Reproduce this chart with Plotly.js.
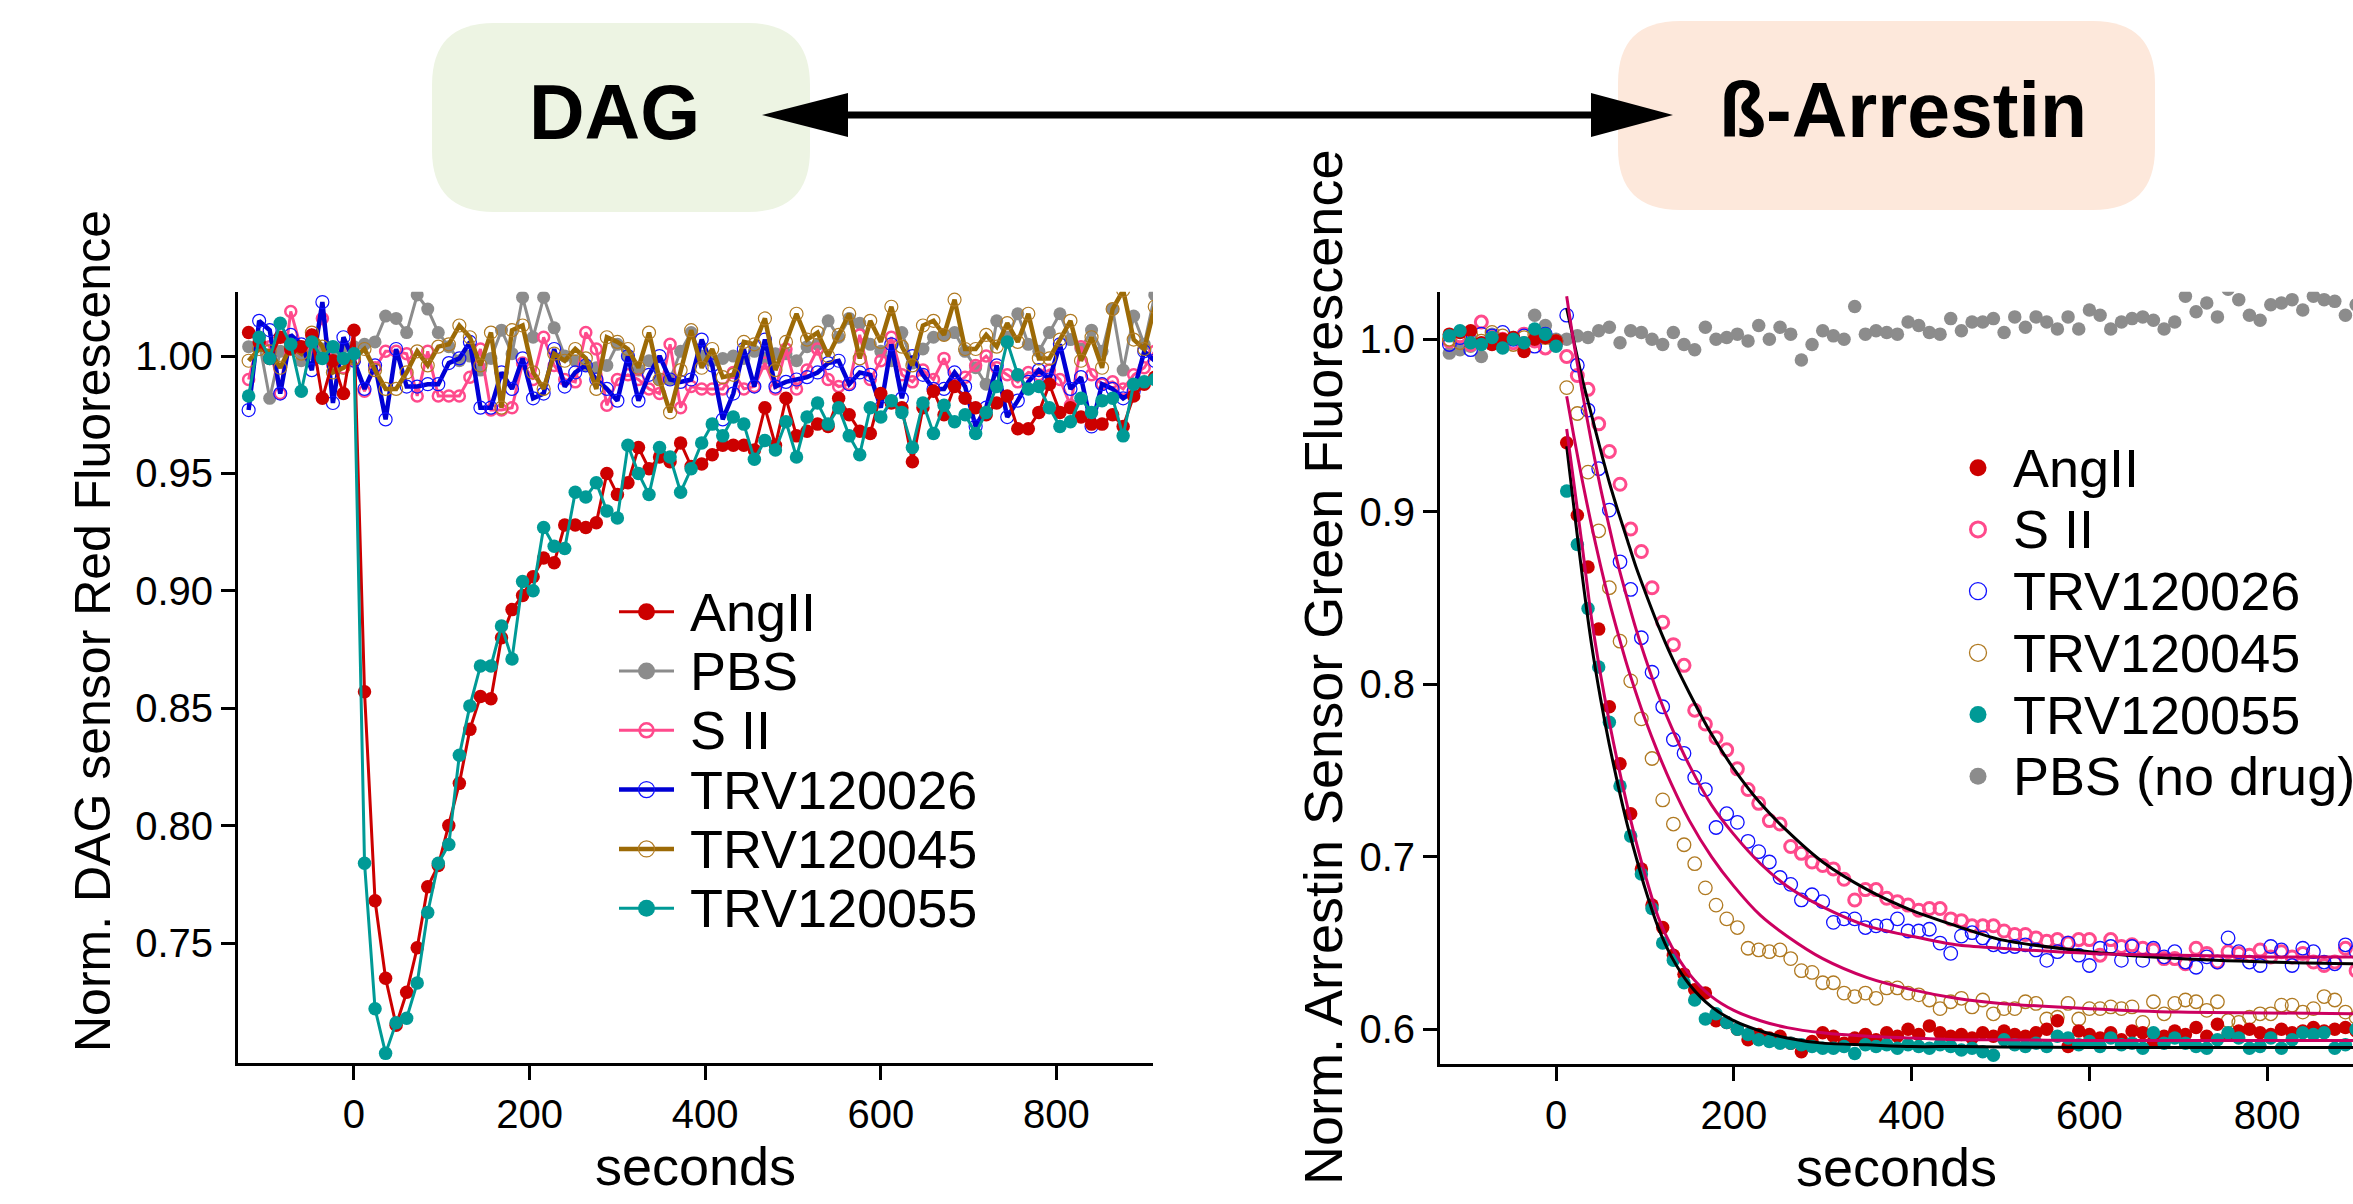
<!DOCTYPE html>
<html>
<head>
<meta charset="utf-8">
<script src="https://cdn.plot.ly/plotly-3.0.1.min.js"></script>
<style>
html,body{margin:0;padding:0;background:#fff;}
#chart{width:2353px;height:1204px;}
</style>
</head>
<body>
<div id="chart"></div>
<script>
// ---------------- DATA ----------------
// Left panel: DAG sensor (time in seconds)
const dagSeconds = [-120,-108,-96,-84,-72,-60,-48,-36,-24,-12,0,12,24,36,48,60,72,84,96,108,120,132,144,156,168,180,192,204,216,228,240,252,264,276,288,300,312,324,336,348,360,372,384,396,408,420,432,444,456,468,480,492,504,516,528,540,552,564,576,588,600,612,624,636,648,660,672,684,696,708,720,732,744,756,768,780,792,804,816,828,840,852,864,876,888,900,912];

const dagAngII = [1.010,1.006,0.999,1.008,1.003,1.004,1.009,0.982,0.998,0.984,1.011,
  0.857,0.768,0.735,0.715,0.729,0.748,0.774,0.783,0.800,0.818,
  0.841,0.855,0.854,0.880,0.892,0.898,0.906,0.914,0.912,0.928,
  0.928,0.927,0.929,0.950,0.941,0.946,0.961,0.952,0.957,0.955,
  0.963,0.953,0.954,0.958,0.962,0.962,0.962,0.960,0.978,0.962,
  0.982,0.966,0.968,0.971,0.970,0.982,0.975,0.968,0.967,0.984,
  0.980,0.978,0.955,0.978,0.985,0.975,0.987,0.982,0.978,0.975,
  0.980,0.983,0.969,0.969,0.976,0.988,0.976,0.978,0.974,0.971,
  0.971,0.975,0.970,0.983,0.988,0.991];

const dagPBS = [1.004,1.006,0.982,1.002,1.004,0.998,1.001,1.003,1.002,1.004,1.004,
  1.005,1.006,1.017,1.016,1.010,1.026,1.020,1.010,1.004,0.998,
  1.000,0.994,0.999,1.011,1.001,1.025,1.008,1.025,1.012,1.000,
  0.998,0.996,0.995,0.996,1.005,1.000,0.994,0.998,0.990,0.990,
  1.002,1.010,1.000,0.998,0.999,1.000,0.999,1.002,0.999,1.001,
  1.001,0.998,1.004,1.005,1.015,1.008,1.016,1.014,1.005,1.002,
  0.998,1.010,0.997,1.003,1.008,1.009,1.010,1.002,0.995,0.988,
  1.015,1.008,1.018,1.005,1.002,1.010,1.018,1.007,1.003,1.011,
  1.002,1.020,0.994,1.017,1.005,1.026];

const dagSII = [0.990,1.008,1.004,0.984,1.019,1.003,1.004,1.016,0.996,0.995,0.998,
  0.985,0.995,1.002,1.002,1.001,0.983,1.002,0.983,0.983,0.983,
  0.991,1.003,0.977,0.977,0.978,0.997,0.990,1.008,0.996,0.990,
  0.989,1.010,1.003,0.979,0.990,0.992,0.990,0.986,0.984,1.005,
  0.978,0.987,0.986,0.986,0.986,0.993,0.986,0.987,0.997,0.986,
  1.003,0.986,0.994,1.003,0.990,0.987,0.988,1.009,0.990,0.998,
  1.008,0.992,0.989,0.994,0.990,0.999,0.988,0.991,0.996,1.000,
  0.995,0.992,0.989,0.993,0.992,0.994,0.990,0.979,1.004,0.992,
  0.988,0.989,0.986,0.992,0.995,1.002];

const dagTRV120026 = [0.977,1.015,1.011,0.984,1.009,1.005,0.994,1.023,0.980,1.008,0.998,
  0.986,0.996,0.973,1.003,0.987,0.987,0.988,0.988,0.997,0.999,
  1.006,0.978,0.978,0.993,0.986,0.999,0.982,0.984,1.003,0.987,
  0.993,0.996,0.990,0.986,0.981,1.000,0.981,0.992,1.000,0.990,
  0.989,0.990,1.007,0.996,0.973,0.984,1.003,0.987,1.007,0.987,
  0.989,0.990,0.991,0.993,0.997,0.998,0.988,0.993,0.992,0.978,
  1.005,0.982,1.000,0.992,0.986,0.986,0.993,0.987,0.970,0.978,
  0.996,0.974,0.981,0.989,0.994,0.990,1.005,0.986,0.991,0.970,
  0.988,0.986,0.982,0.985,1.002,0.998];

const dagTRV120045 = [0.998,1.003,1.002,0.995,1.004,1.001,1.010,1.004,0.993,0.995,0.999,
  1.003,0.994,0.986,0.986,0.993,1.002,0.996,1.004,1.005,1.013,
  1.008,0.996,1.010,0.978,1.011,1.013,0.993,0.986,1.001,0.998,
  1.003,0.999,0.986,1.008,1.006,1.003,0.995,1.010,0.990,0.976,
  0.994,1.011,0.995,1.003,0.991,0.992,1.006,1.005,1.016,0.994,
  1.006,1.018,1.007,1.010,1.000,1.009,1.018,0.999,1.015,1.006,
  1.021,1.004,0.996,1.013,1.015,1.009,1.024,1.003,1.003,1.009,
  1.004,1.014,1.006,1.018,0.999,0.999,1.007,1.015,0.998,1.008,
  0.995,1.020,1.028,1.007,1.003,1.021];

const dagTRV120055 = [0.983,1.008,0.999,1.014,1.005,0.985,1.006,0.999,1.004,0.999,1.001,
  0.784,0.722,0.703,0.716,0.718,0.733,0.763,0.784,0.792,0.830,
  0.851,0.868,0.868,0.885,0.871,0.904,0.900,0.927,0.919,0.918,
  0.942,0.940,0.946,0.934,0.931,0.962,0.950,0.941,0.961,0.957,
  0.942,0.952,0.963,0.971,0.966,0.974,0.971,0.956,0.964,0.960,
  0.972,0.957,0.974,0.980,0.971,0.978,0.966,0.958,0.978,0.974,
  0.981,0.976,0.961,0.980,0.967,0.979,0.972,0.975,0.967,0.976,
  0.987,1.006,0.992,0.986,0.987,0.978,0.970,0.972,0.982,0.976,
  0.981,0.982,0.966,0.988,0.989,0.990];

// Right panel: beta-arrestin sensor
const arrSeconds = [-120,-108,-96,-84,-72,-60,-48,-36,-24,-12,0,12,24,36,48,60,72,84,96,108,120,132,144,156,168,180,192,204,216,228,240,252,264,276,288,300,312,324,336,348,360,372,384,396,408,420,432,444,456,468,480,492,504,516,528,540,552,564,576,588,600,612,624,636,648,660,672,684,696,708,720,732,744,756,768,780,792,804,816,828,840,852,864,876,888,900];

const arrAngII = [1.003,1.004,1.005,0.998,0.997,1.000,1.001,0.993,1.000,1.001,0.999,
  0.940,0.898,0.868,0.832,0.787,0.754,0.725,0.693,0.672,0.659,
  0.643,0.632,0.623,0.621,0.605,0.604,0.600,0.594,0.597,0.595,
  0.596,0.592,0.587,0.593,0.598,0.596,0.592,0.595,0.597,0.594,
  0.598,0.596,0.600,0.597,0.602,0.598,0.596,0.597,0.595,0.598,
  0.596,0.599,0.597,0.596,0.598,0.600,0.605,0.590,0.599,0.597,
  0.595,0.598,0.594,0.599,0.598,0.593,0.596,0.599,0.597,0.601,
  0.596,0.603,0.597,0.599,0.600,0.598,0.597,0.600,0.598,0.599,
  0.601,0.599,0.600,0.601,0.599];

const arrSII = [0.999,1.002,0.997,1.010,1.001,1.000,0.998,1.003,0.999,0.995,0.998,
  0.990,0.979,0.971,0.951,0.935,0.916,0.890,0.877,0.856,0.836,
  0.823,0.811,0.785,0.777,0.769,0.762,0.751,0.739,0.731,0.721,
  0.719,0.706,0.702,0.697,0.695,0.693,0.687,0.675,0.681,0.681,
  0.676,0.674,0.672,0.669,0.670,0.670,0.664,0.663,0.660,0.660,
  0.660,0.657,0.655,0.655,0.653,0.651,0.652,0.650,0.652,0.652,
  0.643,0.652,0.648,0.649,0.647,0.646,0.641,0.641,0.638,0.647,
  0.644,0.639,0.645,0.644,0.643,0.646,0.642,0.645,0.642,0.644,
  0.639,0.637,0.639,0.647,0.634];

const arrTRV120026 = [0.997,1.001,0.994,1.003,1.002,1.004,1.000,1.002,0.996,1.003,0.999,
  1.014,0.985,0.959,0.925,0.901,0.871,0.855,0.827,0.807,0.787,
  0.768,0.760,0.746,0.739,0.717,0.725,0.720,0.709,0.703,0.697,
  0.688,0.684,0.675,0.678,0.674,0.662,0.664,0.664,0.659,0.660,
  0.660,0.664,0.657,0.657,0.658,0.650,0.644,0.654,0.656,0.653,
  0.649,0.648,0.648,0.649,0.646,0.640,0.645,0.650,0.643,0.637,
  0.647,0.648,0.640,0.648,0.640,0.647,0.642,0.645,0.639,0.636,
  0.642,0.639,0.653,0.645,0.639,0.637,0.648,0.646,0.637,0.647,
  0.645,0.639,0.638,0.649,0.645];

const arrTRV120045 = [1.000,0.998,1.003,0.999,1.004,1.002,0.997,1.001,1.003,1.001,0.999,
  0.972,0.957,0.923,0.889,0.856,0.825,0.802,0.780,0.757,0.733,
  0.719,0.707,0.696,0.682,0.672,0.664,0.659,0.647,0.646,0.645,
  0.646,0.641,0.634,0.633,0.627,0.627,0.621,0.619,0.621,0.618,
  0.624,0.624,0.621,0.620,0.617,0.612,0.616,0.618,0.613,0.617,
  0.609,0.612,0.612,0.616,0.615,0.606,0.607,0.615,0.606,0.612,
  0.612,0.613,0.612,0.613,0.604,0.616,0.609,0.615,0.617,0.616,
  0.611,0.616,0.605,0.604,0.607,0.609,0.609,0.614,0.614,0.610,
  0.612,0.619,0.617,0.610,0.607];

const arrTRV120055 = [1.002,1.005,0.998,0.997,1.001,0.995,1.000,0.998,1.006,1.003,0.996,
  0.912,0.881,0.844,0.810,0.778,0.741,0.712,0.690,0.670,0.650,
  0.640,0.627,0.617,0.606,0.609,0.604,0.600,0.597,0.594,0.593,
  0.592,0.592,0.591,0.590,0.589,0.589,0.590,0.586,0.591,0.590,
  0.591,0.589,0.591,0.590,0.589,0.591,0.590,0.588,0.589,0.587,
  0.585,0.594,0.591,0.590,0.592,0.590,0.596,0.595,0.591,0.593,
  0.590,0.595,0.591,0.592,0.589,0.598,0.592,0.595,0.592,0.590,
  0.589,0.594,0.598,0.595,0.589,0.590,0.595,0.589,0.594,0.598,
  0.597,0.598,0.589,0.591,0.600];

const arrPBS = [0.992,0.994,0.996,0.990,1.003,1.000,1.001,0.998,1.014,1.008,1.000,
  1.000,1.002,1.001,1.005,1.007,0.998,1.005,1.004,1.000,0.997,
  1.004,0.997,0.994,1.007,1.000,1.001,1.003,0.999,1.008,1.000,
  1.007,1.003,0.988,0.997,1.005,1.002,1.000,1.019,1.003,1.005,
  1.004,1.003,1.010,1.008,1.004,1.003,1.012,1.005,1.010,1.010,
  1.012,1.004,1.013,1.007,1.013,1.010,1.006,1.013,1.006,1.017,
  1.014,1.006,1.010,1.012,1.013,1.011,1.006,1.010,1.025,1.016,
  1.021,1.013,1.029,1.023,1.014,1.011,1.020,1.021,1.023,1.017,
  1.025,1.023,1.022,1.014,1.020];

// Fitted decay curves
const fitSeconds = [12,20,30,40,50,60,70,80,90,100,115,130,150,175,200,230,260,300,350,400,450,500,600,700,800,900];
const fitAngII   = [0.948,0.917,0.878,0.838,0.806,0.778,0.753,0.730,0.709,0.690,0.665,0.648,0.632,0.619,0.611,0.605,0.601,0.598,0.596,0.595,0.594,0.594,0.5935,0.5935,0.5935,0.5935];
const fitTRV120055 = [0.938,0.903,0.861,0.823,0.792,0.765,0.741,0.719,0.700,0.682,0.659,0.642,0.626,0.613,0.605,0.599,0.595,0.592,0.591,0.590,0.590,0.5898,0.5895,0.5895,0.5895,0.5895];
const fitSII     = [1.018,0.999,0.976,0.956,0.936,0.917,0.900,0.884,0.868,0.854,0.834,0.816,0.795,0.771,0.751,0.731,0.715,0.697,0.681,0.669,0.660,0.652,0.645,0.641,0.639,0.638];
const fitTRV120026 = [1.025,0.998,0.968,0.940,0.914,0.891,0.869,0.850,0.832,0.816,0.794,0.775,0.753,0.730,0.713,0.696,0.683,0.671,0.660,0.654,0.649,0.647,0.644,0.643,0.642,0.642];
const fitTRV120045 = [0.967,0.944,0.917,0.892,0.869,0.848,0.829,0.811,0.795,0.780,0.760,0.742,0.721,0.700,0.683,0.666,0.654,0.641,0.630,0.623,0.618,0.615,0.612,0.610,0.6095,0.609];

const dagLegendNames = ['AngII','PBS','S II','TRV120026','TRV120045','TRV120055'];
const arrLegendNames = ['AngII','S II','TRV120026','TRV120045','TRV120055','PBS (no drug)'];
const xTicks = [0,200,400,600,800];
const dagYTicks = [0.75,0.80,0.85,0.90,0.95,1.00];
const arrYTicks = [0.6,0.7,0.8,0.9,1.0];

// ---------------- STYLE ----------------
const W = 2353, H = 1204;
const fx = x => x / W;
const fy = y => 1 - y / H;
const FONT = 'Liberation Sans, Arial, Helvetica, sans-serif';
const C = {
  red:'#cc0000', grey:'#8c8c8c', pink:'#ff4a8c', blue:'#0000d4', brown:'#9c6a06',
  brownMk:'#b07a22', teal:'#009a96', fit:'#cc0060', black:'#000000'
};

const traces = [];
function dagTrace(y, name, color, lw, marker) {
  traces.push({type:'scatter', mode:'lines+markers', x:dagSeconds, y:y, name:name,
    xaxis:'x', yaxis:'y', line:{color:color, width:lw}, marker:marker, hoverinfo:'skip'});
}
dagTrace(dagPBS, 'PBS', C.grey, 3, {symbol:'circle', size:13, color:C.grey});
dagTrace(dagSII, 'S II', C.pink, 3, {symbol:'circle-open', size:11, color:C.pink, line:{width:2.5}});
dagTrace(dagTRV120026, 'TRV120026', C.blue, 4.5, {symbol:'circle-open', size:13, color:'#1010ff', line:{width:1.2}});
dagTrace(dagTRV120045, 'TRV120045', C.brown, 4.5, {symbol:'circle-open', size:13, color:C.brownMk, line:{width:1.2}});
dagTrace(dagAngII, 'AngII', C.red, 3, {symbol:'circle', size:13.5, color:C.red});
dagTrace(dagTRV120055, 'TRV120055', C.teal, 3, {symbol:'circle', size:13.5, color:C.teal});

function arrTrace(y, name, marker) {
  traces.push({type:'scatter', mode:'markers', x:arrSeconds, y:y, name:name,
    xaxis:'x2', yaxis:'y2', marker:marker, hoverinfo:'skip'});
}
arrTrace(arrPBS, 'PBS (no drug)', {symbol:'circle', size:13.5, color:C.grey});
arrTrace(arrSII, 'S II', {symbol:'circle-open', size:12, color:C.pink, line:{width:3}});
arrTrace(arrTRV120026, 'TRV120026', {symbol:'circle-open', size:13.5, color:'#1010ff', line:{width:1.3}});
arrTrace(arrTRV120045, 'TRV120045', {symbol:'circle-open', size:13.5, color:C.brownMk, line:{width:1.3}});
arrTrace(arrAngII, 'AngII', {symbol:'circle', size:13.5, color:C.red});
arrTrace(arrTRV120055, 'TRV120055', {symbol:'circle', size:13.5, color:C.teal});

function fitTrace(y, name, color) {
  traces.push({type:'scatter', mode:'lines', x:fitSeconds, y:y, name:name,
    xaxis:'x2', yaxis:'y2', line:{color:color, width:3, shape:'spline', smoothing:0.8}, hoverinfo:'skip'});
}
fitTrace(fitTRV120055, 'fit TRV120055', C.black);
fitTrace(fitSII, 'fit S II', C.black);
fitTrace(fitAngII, 'fit AngII', C.fit);
fitTrace(fitTRV120045, 'fit TRV120045', C.fit);
fitTrace(fitTRV120026, 'fit TRV120026', C.fit);

const axisCommon = {
  showline:true, linecolor:'#000', linewidth:3, mirror:false,
  ticks:'outside', ticklen:14, tickwidth:3, tickcolor:'#000',
  showgrid:false, zeroline:false, fixedrange:true,
  tickfont:{family:FONT, size:40, color:'#000'}
};
const xTitle = {text:'seconds', font:{family:FONT, size:54, color:'#000'}, standoff:8};

// ---------- decorations: header boxes, arrow ----------
function rrectPath(x0, y0, x1, y1, r) {
  const P = (x, y) => fx(x) + ',' + fy(y);
  return 'M' + P(x0 + r, y0) + ' L' + P(x1 - r, y0) + ' Q' + P(x1, y0) + ' ' + P(x1, y0 + r) +
    ' L' + P(x1, y1 - r) + ' Q' + P(x1, y1) + ' ' + P(x1 - r, y1) +
    ' L' + P(x0 + r, y1) + ' Q' + P(x0, y1) + ' ' + P(x0, y1 - r) +
    ' L' + P(x0, y0 + r) + ' Q' + P(x0, y0) + ' ' + P(x0 + r, y0) + ' Z';
}
function triPath(pts) {
  return 'M' + pts.map(p => fx(p[0]) + ',' + fy(p[1])).join(' L') + ' Z';
}
const shapes = [
  {type:'path', xref:'paper', yref:'paper', path:rrectPath(432, 23, 810, 212, 62), fillcolor:'#edf4e3', line:{width:0}, layer:'below'},
  {type:'path', xref:'paper', yref:'paper', path:rrectPath(1618, 21, 2155, 210, 62), fillcolor:'#fde8db', line:{width:0}, layer:'below'},
  {type:'line', xref:'paper', yref:'paper', x0:fx(840), x1:fx(1598), y0:fy(115), y1:fy(115), line:{color:'#000', width:7}},
  {type:'path', xref:'paper', yref:'paper', path:triPath([[762,115],[848,93],[848,137]]), fillcolor:'#000', line:{width:0}},
  {type:'path', xref:'paper', yref:'paper', path:triPath([[1673,115],[1591,93],[1591,137]]), fillcolor:'#000', line:{width:0}}
];
const annotations = [
  {xref:'paper', yref:'paper', x:fx(615), y:fy(112), text:'<b>DAG</b>', showarrow:false, xanchor:'center', yanchor:'middle', font:{family:FONT, size:77, color:'#000'}},
  {xref:'paper', yref:'paper', x:fx(1903), y:fy(110), text:'<b>ß-Arrestin</b>', showarrow:false, xanchor:'center', yanchor:'middle', font:{family:FONT, size:77, color:'#000'}},
  {xref:'paper', yref:'paper', x:fx(93), y:fy(631), text:'Norm. DAG sensor Red Fluorescence', textangle:-90, showarrow:false, xanchor:'center', yanchor:'middle', font:{family:FONT, size:50, color:'#000'}},
  {xref:'paper', yref:'paper', x:fx(1323), y:fy(668), text:'Norm. Arrestin Sensor Green Fluorescence', textangle:-90, showarrow:false, xanchor:'center', yanchor:'middle', font:{family:FONT, size:54, color:'#000'}}
];

// ---------- custom legends ----------
function circleShape(cx, cy, d, fill, lineColor, lw) {
  return {type:'circle', xref:'paper', yref:'paper', xsizemode:'pixel', ysizemode:'pixel',
    xanchor:fx(cx), yanchor:fy(cy), x0:-d/2, x1:d/2, y0:-d/2, y1:d/2,
    fillcolor:fill, line:{color:lineColor, width:lw}};
}
const dagLegendStyle = [
  {c:C.red, lw:3, fill:C.red, ol:C.red, olw:0, d:17},
  {c:C.grey, lw:3, fill:C.grey, ol:C.grey, olw:0, d:17},
  {c:C.pink, lw:3, fill:'rgba(0,0,0,0)', ol:C.pink, olw:2.5, d:14},
  {c:C.blue, lw:4.5, fill:'rgba(0,0,0,0)', ol:'#1010ff', olw:1.2, d:16},
  {c:C.brown, lw:4.5, fill:'rgba(0,0,0,0)', ol:C.brownMk, olw:1.2, d:16},
  {c:C.teal, lw:3, fill:C.teal, ol:C.teal, olw:0, d:17}
];
dagLegendNames.forEach((name, i) => {
  const y = 611.7 + i * 59.3;
  const s = dagLegendStyle[i];
  shapes.push({type:'line', xref:'paper', yref:'paper', x0:fx(619), x1:fx(674), y0:fy(y), y1:fy(y), line:{color:s.c, width:s.lw}});
  shapes.push(circleShape(646.5, y, s.d, s.fill, s.ol, s.olw));
  annotations.push({xref:'paper', yref:'paper', x:fx(688), y:fy(y), text:name, showarrow:false, xanchor:'left', yanchor:'middle', font:{family:FONT, size:54, color:'#000'}});
});
const arrLegendStyle = [
  {fill:C.red, ol:C.red, olw:0, d:17},
  {fill:'rgba(0,0,0,0)', ol:C.pink, olw:3, d:15},
  {fill:'rgba(0,0,0,0)', ol:'#1010ff', olw:1.3, d:17},
  {fill:'rgba(0,0,0,0)', ol:C.brownMk, olw:1.3, d:17},
  {fill:C.teal, ol:C.teal, olw:0, d:17},
  {fill:C.grey, ol:C.grey, olw:0, d:17}
];
arrLegendNames.forEach((name, i) => {
  const y = 467.7 + i * 61.7;
  const s = arrLegendStyle[i];
  shapes.push(circleShape(1978, y, s.d, s.fill, s.ol, s.olw));
  annotations.push({xref:'paper', yref:'paper', x:fx(2011), y:fy(y), text:name, showarrow:false, xanchor:'left', yanchor:'middle', font:{family:FONT, size:54, color:'#000'}});
});

const layout = {
  width:W, height:H, margin:{l:0, r:0, t:0, b:0, pad:0},
  paper_bgcolor:'#ffffff', plot_bgcolor:'#ffffff', showlegend:false,
  font:{family:FONT, color:'#000'},
  xaxis: Object.assign({}, axisCommon, {domain:[fx(238), fx(1153)], range:[-132.1, 910], tickvals:xTicks, anchor:'y', title:xTitle}),
  yaxis: Object.assign({}, axisCommon, {domain:[fy(1063), fy(291.7)], range:[0.6989, 1.0274], tickvals:dagYTicks, tickformat:'.2f', anchor:'x'}),
  xaxis2: Object.assign({}, axisCommon, {domain:[fx(1440), 1], range:[-130.5, 896.5], tickvals:xTicks, anchor:'y2', title:xTitle}),
  yaxis2: Object.assign({}, axisCommon, {domain:[fy(1064), fy(291.7)], range:[0.5799, 1.0276], tickvals:arrYTicks, tickformat:'.1f', anchor:'x2'}),
  shapes:shapes,
  annotations:annotations
};

Plotly.newPlot('chart', traces, layout, {displayModeBar:false, staticPlot:true});
</script>
</body>
</html>
